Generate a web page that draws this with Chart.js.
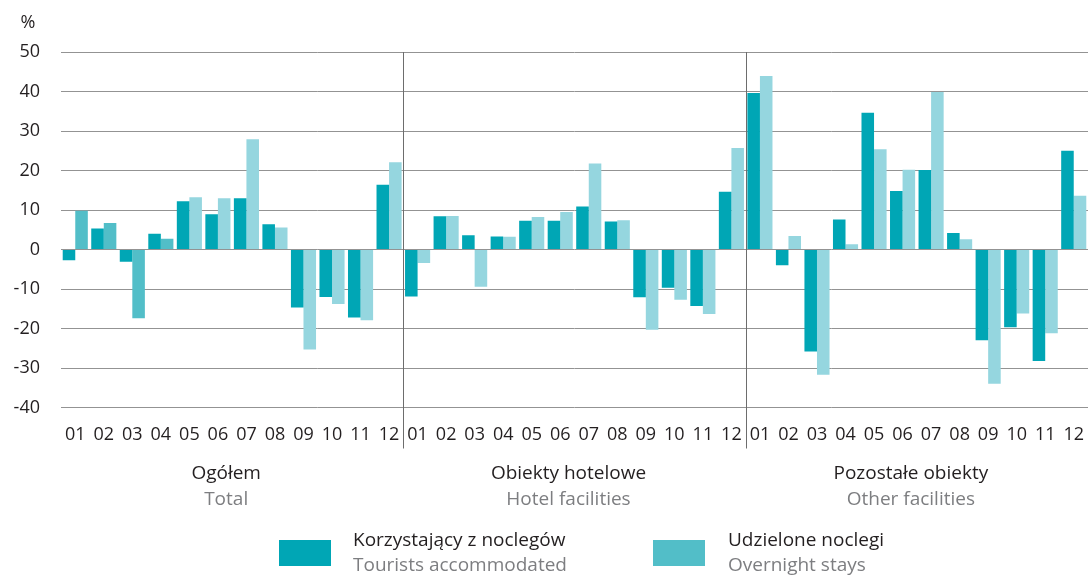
<!DOCTYPE html>
<html>
<head>
<meta charset="utf-8">
<script src="https://cdn.jsdelivr.net/npm/chart.js@4.4.1/dist/chart.umd.min.js"></script>
<style>
  html, body { margin: 0; padding: 0; background: #ffffff; }
  #wrap { width: 1088px; height: 575px; position: relative; }
</style>
</head>
<body>
<div id="wrap"><canvas id="c" width="1088" height="575"></canvas></div>
<script>
// ---- data ----
const months = ["01","02","03","04","05","06","07","08","09","10","11","12"];
const groupsPL = ["Ogółem", "Obiekty hotelowe", "Pozostałe obiekty"];
const groupsEN = ["Total", "Hotel facilities", "Other facilities"];
const yTicks = [-40, -30, -20, -10, 0, 10, 20, 30, 40, 50];

const touristsTotal = [-2.7, 5.3, -3.1, 4.0, 12.2, 8.9, 13.0, 6.4, -14.7, -12.0, -17.2, 16.4];
const staysTotal    = [9.8, 6.7, -17.4, 2.7, 13.2, 13.0, 27.9, 5.6, -25.3, -13.8, -17.9, 22.1];
const touristsHotel = [-11.9, 8.4, 3.6, 3.3, 7.3, 7.3, 10.9, 7.1, -12.1, -9.7, -14.3, 14.6];
const staysHotel    = [-3.4, 8.5, -9.4, 3.2, 8.2, 9.5, 21.8, 7.4, -20.3, -12.7, -16.3, 25.7];
const touristsOther = [39.6, -4.0, -25.8, 7.6, 34.6, 14.8, 20.1, 4.2, -23.0, -19.7, -28.2, 25.0];
const staysOther    = [43.9, 3.4, -31.7, 1.3, 25.4, 20.2, 39.9, 2.6, -34.0, -16.2, -21.2, 13.6];

const seriesPL = ["Korzystający z noclegów", "Udzielone noclegi"];
const seriesEN = ["Tourists accommodated", "Overnight stays"];

// ---- derived ----
const labels = [].concat(months, months, months);
const tourists = [].concat(touristsTotal, touristsHotel, touristsOther);
const stays = [].concat(staysTotal, staysHotel, staysOther);

const C_TOUR = '#00a6b5';
const C_STAY_MED = '#52bec8';
const C_STAY_LIGHT = '#95d6df';
const stayColors = stays.map((v, i) => i < 4 ? C_STAY_MED : C_STAY_LIGHT);

const FONT = "'Open Sans', 'DejaVu Sans', sans-serif";
const DARK = '#231f20';
const GREY = '#7d7e81';

const decor = {
  id: 'decor',
  afterDraw(chart) {
    const ctx = chart.ctx;
    const xs = chart.scales.x;
    const area = chart.chartArea;
    ctx.save();
    // separators
    ctx.strokeStyle = '#6d6d6d';
    ctx.lineWidth = 1;
    [11.5, 23.5].forEach(v => {
      const x = Math.round(xs.getPixelForValue(v)) + 0.5;
      ctx.beginPath();
      ctx.moveTo(x, area.top);
      ctx.lineTo(x, area.bottom + 41);
      ctx.stroke();
    });
    // % label
    ctx.fillStyle = DARK;
    ctx.font = "18px " + FONT;
    ctx.textAlign = 'center';
    ctx.textBaseline = 'middle';
    ctx.fillText('%', 28, 23);
    // group labels
    ctx.font = "19px " + FONT;
    [5.5, 17.5, 29.5].forEach((v, i) => {
      const cx = xs.getPixelForValue(v) - 6;
      ctx.fillStyle = DARK;
      ctx.fillText(groupsPL[i], cx, 474);
      ctx.fillStyle = GREY;
      ctx.fillText(groupsEN[i], cx, 500);
    });
    // legend
    const items = [
      { color: C_TOUR, sx: 279, tx: 353 },
      { color: C_STAY_MED, sx: 653, tx: 728 }
    ];
    items.forEach((it, i) => {
      ctx.fillStyle = it.color;
      ctx.fillRect(it.sx, 540, 52, 26);
      ctx.textAlign = 'left';
      ctx.fillStyle = DARK;
      ctx.fillText(seriesPL[i], it.tx, 541);
      ctx.fillStyle = GREY;
      ctx.fillText(seriesEN[i], it.tx, 566);
    });
    ctx.restore();
  }
};

new Chart(document.getElementById('c'), {
  type: 'bar',
  data: {
    labels: labels,
    datasets: [
      { label: seriesPL[0], data: tourists, backgroundColor: C_TOUR, borderWidth: 0 },
      { label: seriesPL[1], data: stays, backgroundColor: stayColors, borderWidth: 0 }
    ]
  },
  options: {
    responsive: false,
    animation: false,
    events: [],
    layout: { padding: { top: 52, right: 0, bottom: 0, left: 0 } },
    datasets: { bar: { categoryPercentage: 0.88, barPercentage: 1.0 } },
    plugins: { legend: { display: false }, tooltip: { enabled: false }, title: { display: false } },
    scales: {
      x: {
        grid: { display: false, drawTicks: false },
        border: { display: false },
        ticks: { color: DARK, font: { family: FONT, size: 18 }, padding: 17, maxRotation: 0, autoSkip: false },
        afterFit(scale) { scale.height = 167.5; scale.paddingLeft = 0; scale.paddingRight = 0; }
      },
      y: {
        min: -40, max: 50,
        afterBuildTicks(scale) { scale.ticks = yTicks.map(v => ({ value: v })); },
        grid: { color: '#939393', lineWidth: 1, drawTicks: false },
        border: { display: false },
        ticks: { color: DARK, font: { family: FONT, size: 18 }, padding: 21 },
        afterFit(scale) { scale.width = 61; }
      }
    }
  },
  plugins: [decor]
});
</script>
</body>
</html>
